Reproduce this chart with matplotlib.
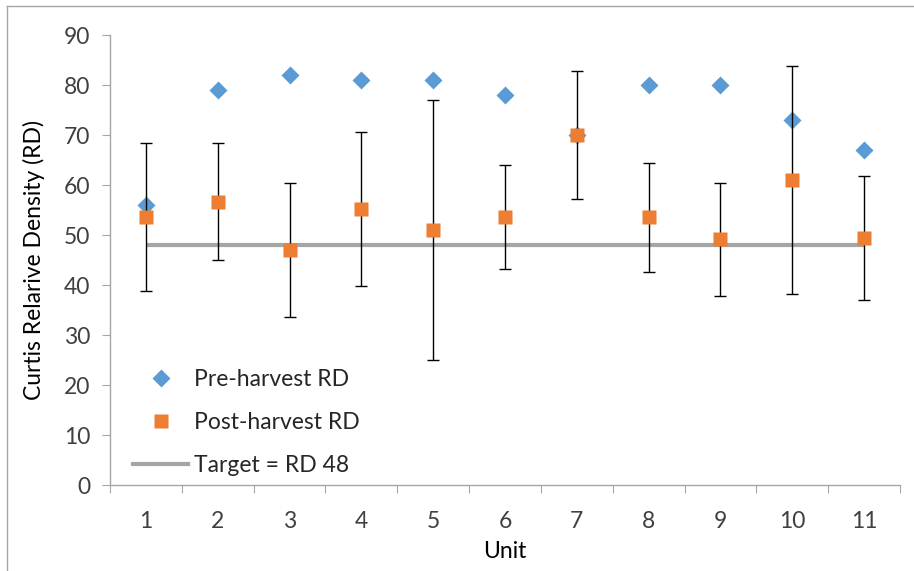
import matplotlib
matplotlib.use("Agg")
import matplotlib.pyplot as plt
from matplotlib.lines import Line2D

units = [1, 2, 3, 4, 5, 6, 7, 8, 9, 10, 11]
pre_rd = [56, 79, 82, 81, 81, 78, 70, 80, 80, 73, 67]
post_rd = [53.7, 56.7, 47.1, 55.2, 51.1, 53.7, 70.1, 53.6, 49.2, 61.1, 49.4]
post_high = [68.5, 68.4, 60.5, 70.6, 77.0, 64.1, 82.8, 64.4, 60.5, 83.9, 61.8]
post_low = [38.9, 45.1, 33.7, 39.8, 25.0, 43.3, 57.3, 42.7, 37.8, 38.3, 37.1]
target = 48

plt.rcParams['font.family'] = ['Lato', 'DejaVu Sans']
FS = 16.5

fig = plt.figure(figsize=(9.14, 5.71), dpi=100)
ax = fig.add_axes([110 / 914, 86 / 571, 790 / 914, 450 / 571])

err_lo = [p - l for p, l in zip(post_rd, post_low)]
err_hi = [h - p for p, h in zip(post_rd, post_high)]

ax.plot([units[0], units[-1]], [target, target], color='#A5A5A5', lw=3, zorder=1,
        solid_capstyle='butt')
ax.plot(units, pre_rd, 'D', color='#5B9BD5', ms=9, zorder=2, mec='none')
ax.errorbar(units, post_rd, yerr=[err_lo, err_hi], fmt='none', ecolor='black',
            elinewidth=1, capsize=4.5, capthick=1, zorder=3)
ax.plot(units, post_rd, 's', color='#ED7D31', ms=10, zorder=4, mec='none')

ax.set_xlim(0.5, 11.5)
ax.set_ylim(0, 90)
ax.set_yticks(range(0, 91, 10))
ax.set_xticks([u - 0.5 for u in units] + [units[-1] + 0.5])
ax.set_xticklabels([])
ax.set_xticks(units, minor=True)
ax.set_xticklabels([str(u) for u in units], minor=True)
ax.tick_params(axis='x', which='minor', length=0, pad=19, labelsize=FS, labelcolor='#404040')
ax.tick_params(axis='x', which='major', length=6, color='#A6A6A6', direction='out')
ax.tick_params(axis='y', length=6, color='#A6A6A6', pad=8, labelsize=FS, labelcolor='#404040')

for s in ['top', 'right']:
    ax.spines[s].set_visible(False)
for s in ['left', 'bottom']:
    ax.spines[s].set_color('#A6A6A6')
    ax.spines[s].set_linewidth(1)

ax.set_ylabel('Curtis Relarive Density (RD)', fontsize=FS, labelpad=14)
ax.set_xlabel('Unit', fontsize=FS, labelpad=6)

handles = [
    Line2D([], [], marker='D', ls='none', color='#5B9BD5', ms=9, mec='none'),
    Line2D([], [], marker='s', ls='none', color='#ED7D31', ms=10, mec='none'),
    Line2D([], [], color='#A5A5A5', lw=3),
]
labels = ['Pre-harvest RD', 'Post-harvest RD', 'Target = RD 48']
ax.legend(handles, labels, loc='lower left', bbox_to_anchor=(0.018, 0.0),
          frameon=False, fontsize=FS, labelspacing=0.95, handlelength=2.4,
          handletextpad=0.25, labelcolor='#262626', borderaxespad=0.0)

# chart area border
fig.add_artist(Line2D([7 / 914, 7 / 914], [0, 1 - 6 / 571], color='#A6A6A6', lw=1))
fig.add_artist(Line2D([7 / 914, 1], [1 - 6 / 571, 1 - 6 / 571], color='#A6A6A6', lw=1))

fig.savefig('out.png', dpi=100)
